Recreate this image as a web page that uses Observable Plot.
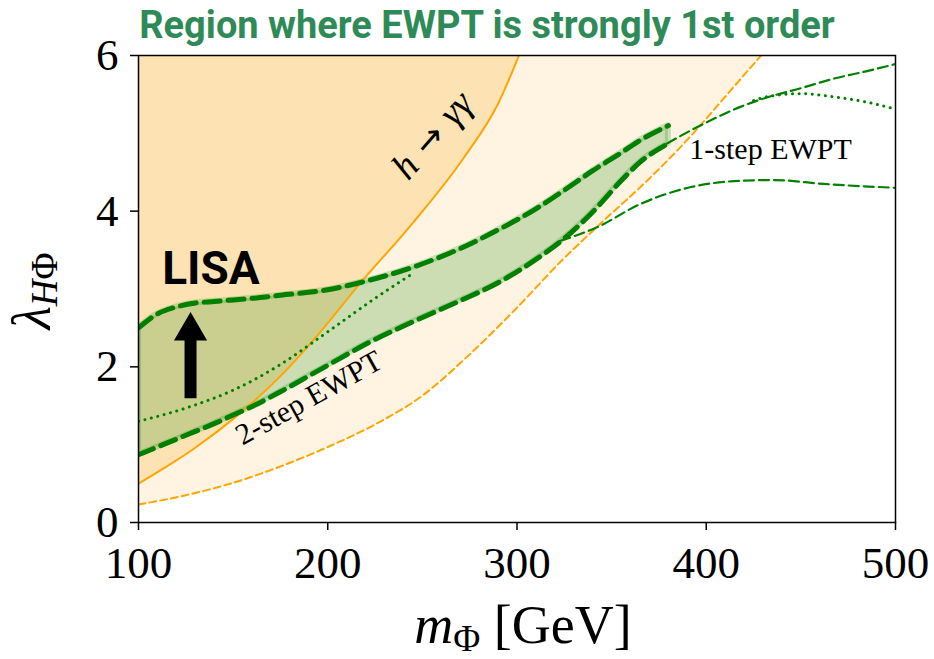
<!DOCTYPE html>
<html><head><meta charset="utf-8">
<script src="https://cdn.jsdelivr.net/npm/d3@7"></script>
<script src="https://cdn.jsdelivr.net/npm/@observablehq/plot@0.6"></script>
<style>html,body{margin:0;padding:0;background:#fff;overflow:hidden;}</style>
</head><body><div id="chart"></div>
<script>
// ---- data (m_Phi [GeV], lambda_HPhi) ----
const xTicks = [100, 200, 300, 400, 500];
const yTicks = [0, 2, 4, 6];

// h -> gamma gamma bound (solid orange)
const hggBound = [[100,0.50],[115,0.72],[130,0.96],[152,1.37],[175,1.88],[193,2.36],[217,3.07],[245,3.85],[272,4.69],[290,5.38],[301,6.0]];
// outer orange dashed boundary
const orangeDashed = [[100,0.23],[125,0.35],[150,0.51],[175,0.72],[200,0.97],[225,1.26],[250,1.63],[275,2.16],[300,2.76],[323,3.35],[345,3.86],[370,4.42],[395,5.05],[410,5.47],[429,6.0]];

// 2-step EWPT band
const bandM     = [100, 110, 120, 130, 140, 150, 160, 175, 200, 220, 245, 270, 290, 310, 325, 340, 355, 365, 380];
const bandUpper = [2.50,2.68,2.77,2.82,2.84,2.86,2.88,2.92,2.99,3.10,3.28,3.52,3.76,4.03,4.27,4.52,4.75,4.91,5.10];
const bandLower = [0.87,0.97,1.07,1.17,1.27,1.38,1.49,1.68,2.02,2.29,2.58,2.85,3.08,3.38,3.65,3.99,4.39,4.63,4.87];
// dotted line inside band
const bandDotted = [[100,1.30],[125,1.47],[150,1.70],[175,2.03],[200,2.45],[225,2.88],[245,3.20]];

// 1-step EWPT lines
const oneStepUpper  = [[379.3,4.87],[392,5.04],[406,5.21],[418,5.34],[432,5.46],[450,5.58],[467,5.70],[485,5.80],[500,5.89]];
const oneStepLower  = [[323,3.62],[342,3.79],[365,4.09],[392,4.31],[418,4.39],[436,4.40],[462,4.35],[500,4.30]];
const oneStepDotted = [[425,5.42],[432,5.47],[450,5.51],[467,5.47],[485,5.40],[500,5.31]];

// LISA arrow
const lisaArrow = [{m: 127.5, base: 1.59, neck: 2.36, head: 2.46}];

// annotations
const hggLabel = {m: 255.5, l: 4.97, rotate: -49};
const annotations = [
  {m: 190.0, l: 1.60, text: "2-step EWPT", rotate: -29, size: 30},
  {m: 434.0, l: 4.79, text: "1-step EWPT", rotate: 0, size: 30}
];
const lisaLabel = [{m: 112.5, l: 3.25, text: "LISA"}];

// ---- build ----
const pts = a => a.map(([m, l]) => ({m, l}));
const band = bandM.map((m, i) => ({m, lo: bandLower[i], hi: bandUpper[i]}));
const curve = "monotone-x";
const green = "#008000", orange = "#ffa500";

const plot = Plot.plot({
  width: 934, height: 659,
  marginLeft: 138, marginRight: 39, marginTop: 55, marginBottom: 137,
  x: {domain: [100, 500]},
  y: {domain: [0, 6]},
  style: {fontFamily: "Liberation Serif", background: "white", color: "black"},
  marks: [
    Plot.areaY(pts(orangeDashed), {x: "m", y1: "l", y2: 6, fill: "#fff4e1", curve, clip: true}),
    Plot.areaY(pts(hggBound), {x: "m", y1: "l", y2: 6, fill: "#fde3b4", curve, clip: true}),
    Plot.areaY(band, {x: "m", y1: "lo", y2: "hi", fill: green, fillOpacity: 0.2, stroke: green, strokeOpacity: 0.2, strokeWidth: 6, curve, clip: true}),
    Plot.line(pts(hggBound), {x: "m", y: "l", stroke: orange, strokeWidth: 2, curve, clip: true}),
    Plot.line(pts(orangeDashed), {x: "m", y: "l", stroke: orange, strokeWidth: 2, strokeDasharray: "7,4", curve, clip: true}),
    Plot.line(band, {x: "m", y: "hi", stroke: green, strokeWidth: 5, strokeDasharray: "16,8", curve, clip: true}),
    Plot.line(band, {x: "m", y: "lo", stroke: green, strokeWidth: 5, strokeDasharray: "16,8", curve, clip: true}),
    Plot.line(pts(bandDotted), {x: "m", y: "l", stroke: green, strokeWidth: 3, strokeDasharray: "0.1,6.5", strokeLinecap: "round", curve, clip: true}),
    Plot.line(pts(oneStepUpper), {x: "m", y: "l", stroke: green, strokeWidth: 2.2, strokeDasharray: "10,5", curve, clip: true}),
    Plot.line(pts(oneStepLower), {x: "m", y: "l", stroke: green, strokeWidth: 2.2, strokeDasharray: "10,5", curve, clip: true}),
    Plot.line(pts(oneStepDotted), {x: "m", y: "l", stroke: green, strokeWidth: 3, strokeDasharray: "0.1,6.5", strokeLinecap: "round", curve, clip: true}),
    Plot.ruleX(lisaArrow, {x: "m", y1: "base", y2: "neck", stroke: "black", strokeWidth: 12}),
    Plot.dot(lisaArrow, {x: "m", y: "head", symbol: "triangle", r: 12.3, fill: "black", stroke: null}),
    ...annotations.map(a => Plot.text([a], {x: "m", y: "l", text: "text", rotate: a.rotate, fontSize: a.size, fill: "black", fontFamily: "Liberation Serif"})),
    Plot.text(lisaLabel, {x: "m", y: "l", text: "text", textAnchor: "start", fontFamily: "Roboto", fontWeight: "bold", fontSize: 46, fill: "black"}),
    Plot.frame({stroke: "black", strokeWidth: 1.5}),
    Plot.axisX({ticks: xTicks, tickSize: 8, tickPadding: 16, fontSize: 45, label: null, strokeWidth: 1.5, tickFormat: d => String(d)}),
    Plot.axisY({ticks: yTicks, tickSize: 8, tickPadding: 12, fontSize: 45, label: null, strokeWidth: 1.5, tickFormat: d => String(d)})
  ]
});

const sx = plot.scale("x"), sy = plot.scale("y");
const svg = d3.select(plot);

// h -> γγ label (mixed fonts)
const hg = svg.append("text")
  .attr("transform", `translate(${sx.apply(hggLabel.m)},${sy.apply(hggLabel.l)}) rotate(${hggLabel.rotate})`)
  .attr("text-anchor", "middle").attr("dy", "0.32em")
  .attr("font-family", "Liberation Serif").attr("font-size", 38).attr("fill", "black");
hg.append("tspan").attr("font-style", "italic").text("h");
hg.append("tspan").attr("font-family", "DejaVu Sans").attr("font-size", 34).attr("dx", 12).text("→");
hg.append("tspan").attr("font-style", "italic").attr("dx", 12).text("γγ");

svg.append("text")
  .attr("x", 487).attr("y", 38)
  .attr("text-anchor", "middle")
  .attr("font-family", "Roboto").attr("font-weight", "bold").attr("font-size", 38)
  .attr("fill", "#2e8b57")
  .text("Region where EWPT is strongly 1st order");

const xl = svg.append("text")
  .attr("x", 523).attr("y", 643).attr("text-anchor", "middle")
  .attr("font-family", "Liberation Serif").attr("font-size", 54).attr("fill", "black");
xl.append("tspan").attr("font-style", "italic").text("m");
xl.append("tspan").attr("font-size", 37).attr("dy", 8).text("Φ");
xl.append("tspan").attr("dy", -8).text(" [GeV]");

const yl = svg.append("text")
  .attr("transform", "translate(50,291) rotate(-90)").attr("text-anchor", "middle")
  .attr("font-family", "Liberation Serif").attr("font-size", 54).attr("fill", "black");
yl.append("tspan").attr("font-style", "italic").text("λ");
yl.append("tspan").attr("font-size", 37).attr("dy", 7).attr("font-style", "italic").text("H");
yl.append("tspan").attr("font-size", 37).text("Φ");

document.getElementById("chart").appendChild(plot);
</script>
</body></html>
